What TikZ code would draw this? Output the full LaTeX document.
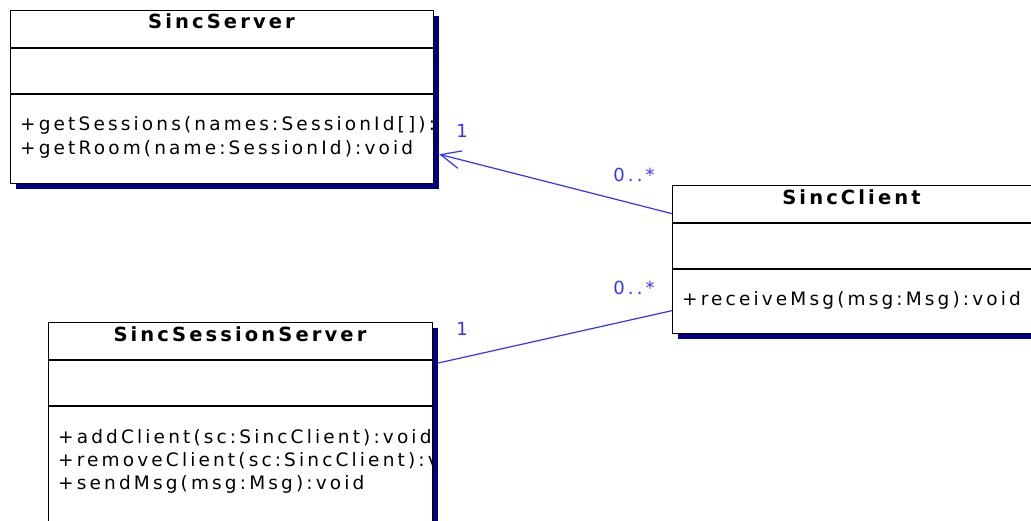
\documentclass[tikz,border=0pt]{standalone}
\usepackage{fontspec}
\newfontfamily\umlfont[LetterSpace=17]{DejaVu Sans}
\newfontfamily\umlbold[LetterSpace=16]{DejaVu Sans Bold}
\usetikzlibrary{arrows.meta,shadows}
\definecolor{shadenavy}{RGB}{0,0,128}
\definecolor{linkblue}{RGB}{51,51,255}

\begin{document}
\begin{tikzpicture}[x=1pt, y=-1pt,
	classbox/.style={shape=rectangle, draw, fill=white, line width=1.3pt, anchor=north west, inner sep=0,
		drop shadow={shadow xshift=5pt, shadow yshift=-5pt, fill=shadenavy, opacity=1}},
	title/.style={font={\umlbold\fontsize{19.5}{23}\selectfont}, anchor=base, inner sep=0},
	member/.style={font={\umlfont\fontsize{18.5}{22}\selectfont}, anchor=base west, inner sep=0},
	mult/.style={font={\umlfont\fontsize{18}{22}\selectfont}, text=linkblue, inner sep=0},
	assoc/.style={draw=linkblue, line width=1.2pt}, >={Straight Barb[length=20pt, width=18pt]}]
	\useasboundingbox (0,0) rectangle (1031,520);

	% SincServer
	\node[classbox, minimum width=423pt, minimum height=173pt] (server) at (10,10) {};
	\draw[line width=1.3pt] ([shift={(0,38)}]server.north west) -- ([shift={(0,38)}]server.north east);
	\draw[line width=1.3pt] ([shift={(0,84)}]server.north west) -- ([shift={(0,84)}]server.north east);
	\node[title] (servername) at (221.5,28) {SincServer};
	\begin{scope}
		\clip (server.north west) rectangle (server.south east);
		\node[member] (getsessions) at (20,130) {+getSessions(names:SessionId[]):v};
		\node[member] (getroom) at (20,154) {+getRoom(name:SessionId):void};
	\end{scope}

	% SincClient
	\node[classbox, minimum width=359pt, minimum height=148pt] (client) at (672,185) {};
	\draw[line width=1.3pt] ([shift={(0,38)}]client.north west) -- ([shift={(0,38)}]client.north east);
	\draw[line width=1.3pt] ([shift={(0,84)}]client.north west) -- ([shift={(0,84)}]client.north east);
	\node[title] (clientname) at (851.5,204) {SincClient};
	\node[member] (receivemsg) at (682,305) {+receiveMsg(msg:Msg):void};

	% SincSessionServer
	\node[classbox, minimum width=384pt, minimum height=220pt] (session) at (48,322) {};
	\draw[line width=1.3pt] ([shift={(0,38)}]session.north west) -- ([shift={(0,38)}]session.north east);
	\draw[line width=1.3pt] ([shift={(0,84)}]session.north west) -- ([shift={(0,84)}]session.north east);
	\node[title] (sessionname) at (240,341) {SincSessionServer};
	\begin{scope}
		\clip (session.north west) rectangle (session.south east);
		\node[member] (addclient) at (58,443) {+addClient(sc:SincClient):void};
		\node[member] (removeclient) at (58,466) {+removeClient(sc:SincClient):v};
		\node[member] (sendmsg) at (58,489) {+sendMsg(msg:Msg):void};
	\end{scope}

	% associations
	\draw[assoc, ->] ([shift={(0,-46)}]client.west) -- ([shift={(5,-30)}]server.south east);
	\draw[assoc] ([shift={(0,51)}]client.west) -- ([shift={(5,41)}]session.north east);
	\node[mult] (srvone) at (462,131) {1};
	\node[mult] (srvmany) at (634,175) {0..*};
	\node[mult] (sesone) at (462,329) {1};
	\node[mult] (sesmany) at (634,288) {0..*};
\end{tikzpicture}
\end{document}
